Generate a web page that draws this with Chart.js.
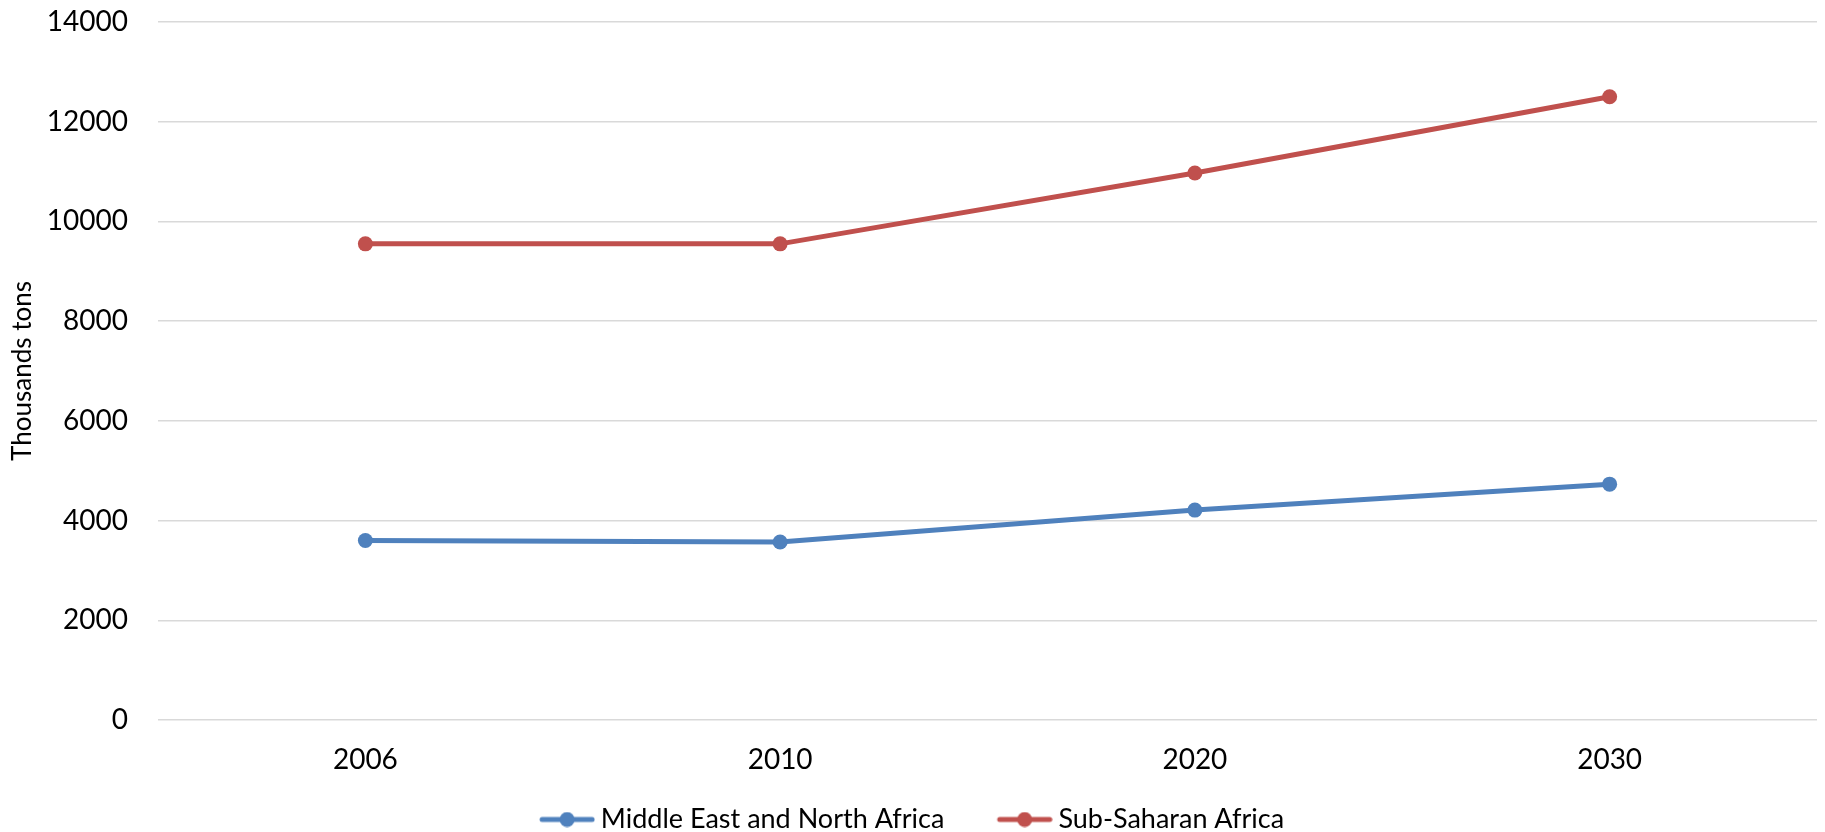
<!DOCTYPE html>
<html>
<head>
<meta charset="utf-8">
<title>Thousands tons</title>
<script src="https://cdn.jsdelivr.net/npm/chart.js@4.4.1/dist/chart.umd.min.js"></script>
<style>
  html, body { margin: 0; padding: 0; background: #fff; }
  #wrap { width: 1825px; height: 832px; }
</style>
</head>
<body>
<div id="wrap"><canvas id="chart" width="1825" height="832"></canvas></div>
<script>
const years = ['2006', '2010', '2020', '2030'];
const menaValues = [3600, 3570, 4210, 4730];
const ssaValues = [9550, 9550, 10970, 12500];
const seriesNames = ['Middle East and North Africa', 'Sub-Saharan Africa'];
const seriesColors = ['#4F81BD', '#C0504D'];

const FONT = 'Lato, "Open Sans", sans-serif';

// legend marker: line with a dot in the middle, like Excel.
// the image is centered on the box, so the line sits in its right part
// to leave a gap after the previous item
function legendMarker(color) {
    let c = document.createElement('canvas');
    c.width = 94;
    c.height = 16;
    let g = c.getContext('2d');
    g.strokeStyle = color;
    g.lineWidth = 5;
    g.lineCap = 'round';
    g.beginPath();
    g.moveTo(41, 8);
    g.lineTo(91, 8);
    g.stroke();
    g.fillStyle = color;
    g.beginPath();
    g.arc(66, 8, 7.5, 0, Math.PI * 2);
    g.fill();
    return c;
}

function makeDataset(i, values) {
    return {
        label: seriesNames[i],
        data: values,
        borderColor: seriesColors[i],
        backgroundColor: seriesColors[i],
        borderWidth: 5,
        pointRadius: 7.5,
        pointBorderWidth: 0,
        pointBackgroundColor: seriesColors[i],
        tension: 0,
        fill: false
    };
}

// nudge the legend once the chart area is fixed,
// and let the x labels draw below their (short) box
const layoutTweaks = {
    id: 'layoutTweaks',
    afterLayout(chart) {
        if (chart.legend) {
            chart.legend.top += 11;
            chart.legend.bottom += 11;
            chart.legend.left -= 12;
            chart.legend.right -= 12;
        }
        chart.scales.x.bottom += 20;
    }
};

new Chart(document.getElementById('chart'), {
    type: 'line',
    data: {
        labels: years,
        datasets: [makeDataset(0, menaValues), makeDataset(1, ssaValues)]
    },
    plugins: [layoutTweaks],
    options: {
        responsive: false,
        animation: false,
        devicePixelRatio: 1,
        layout: { padding: { top: 22, right: 8, bottom: 0, left: 0 } },
        plugins: {
            tooltip: { enabled: false },
            legend: {
                position: 'bottom',
                labels: {
                    color: '#000',
                    font: { family: FONT, size: 27 },
                    usePointStyle: true,
                    pointStyleWidth: 78.5,
                    padding: 22,
                    generateLabels: chart => chart.data.datasets.map((ds, i) => ({
                        text: ds.label,
                        pointStyle: legendMarker(seriesColors[i]),
                        fillStyle: seriesColors[i],
                        strokeStyle: seriesColors[i],
                        lineWidth: 0,
                        fontColor: '#000',
                        datasetIndex: i
                    }))
                }
            }
        },
        scales: {
            x: {
                offset: true,
                grid: { display: false },
                border: { display: false },
                ticks: { color: '#000', font: { family: FONT, size: 28 }, padding: 15 },
                afterFit: scale => {
                    scale.height = 53;
                    scale.paddingLeft = 0;
                    scale.paddingRight = 0;
                }
            },
            y: {
                min: 0,
                max: 14000,
                ticks: {
                    stepSize: 2000,
                    color: '#000',
                    font: { family: FONT, size: 28 },
                    padding: 30,
                    callback: v => String(v)
                },
                grid: { color: '#D9D9D9', lineWidth: 1.5, drawTicks: false },
                border: { display: false },
                title: {
                    display: true,
                    text: 'Thousands tons',
                    color: '#000',
                    font: { family: FONT, size: 26 },
                    padding: { top: 7, bottom: 0 }
                },
                afterFit: scale => {
                    scale.width = 158;
                    scale.paddingTop = 0;
                    scale.paddingBottom = 0;
                }
            }
        }
    }
});
</script>
</body>
</html>
